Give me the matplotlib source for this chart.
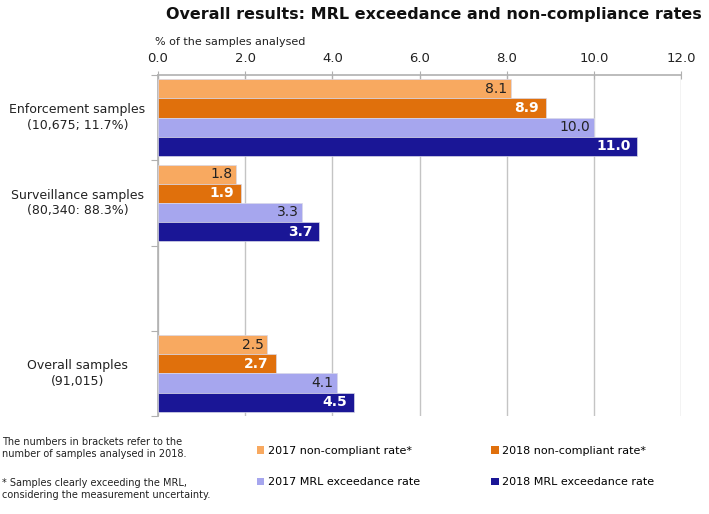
import numpy as np
import matplotlib
matplotlib.use('Agg')
import matplotlib.pyplot as plt
from matplotlib.patches import Patch

# categories (third slot is an empty spacer in the original)
CATEGORIES = ['Enforcement samples\n(10,675; 11.7%)',
              'Surveillance samples\n(80,340: 88.3%)',
              '',
              'Overall samples\n(91,015)']
SERIES = ['2017 non-compliant rate*', '2018 non-compliant rate*',
          '2017 MRL exceedance rate', '2018 MRL exceedance rate']
NC_2017 = [8.1, 1.8, None, 2.5]
NC_2018 = [8.9, 1.9, None, 2.7]
MRL_2017 = [10.0, 3.3, None, 4.1]
MRL_2018 = [11.0, 3.7, None, 4.5]
X_TICKS = [0, 2, 4, 6, 8, 10, 12]

COLORS = ['#F8A960', '#E0700C', '#A6A6EE', '#1A1696']
LABEL_COLORS = ['#222222', 'white', '#222222', 'white']
LABEL_WEIGHTS = ['normal', 'bold', 'normal', 'bold']
LABEL_PAD = [-2.5, -5, -2.5, -5]

plt.rcParams['font.family'] = ['DejaVu Sans']

fig = plt.figure(figsize=(7.09, 5.14), dpi=100)
ax = fig.add_axes([158 / 709, 1 - 416 / 514, (681 - 158) / 709, (416 - 75) / 514])

y = np.arange(len(CATEGORIES))
h = 0.225
offsets = [-1.5 * h, -0.5 * h, 0.5 * h, 1.5 * h]
all_series = [NC_2017, NC_2018, MRL_2017, MRL_2018]

for vals, off, col, lc, lw, pad in zip(all_series, offsets, COLORS, LABEL_COLORS,
                                       LABEL_WEIGHTS, LABEL_PAD):
    idx = [i for i, v in enumerate(vals) if v is not None]
    v = [vals[i] for i in idx]
    ax.barh(y[idx] + off, v, height=h, color=col,
            edgecolor='#d8d8e8', linewidth=0.5, zorder=3)
    for yy, xx in zip(y[idx] + off, v):
        ax.annotate(f'{xx:.1f}', xy=(xx, yy), xytext=(pad, 0), textcoords='offset points',
                    ha='right', va='center', color=lc, fontsize=10,
                    fontweight=lw, zorder=4)

ax.set_xlim(0, 12)
ax.set_ylim(3.5, -0.5)
ax.set_xticks(X_TICKS)
ax.set_xticklabels([f'{t:.1f}' for t in X_TICKS], fontsize=9.5, color='#222222')
ax.xaxis.tick_top()
ax.tick_params(axis='x', direction='inout', length=6, color='#b0b0b0', pad=4)
ax.set_yticks([-0.5, 0.5, 1.5, 2.5, 3.5])
ax.set_yticklabels([])
ax.tick_params(axis='y', direction='out', length=5, color='#b0b0b0')
ax.grid(axis='x', color='#c4c4c4', linewidth=1, zorder=0)

for s in ['right', 'bottom']:
    ax.spines[s].set_visible(False)
for s in ['top', 'left']:
    ax.spines[s].set_color('#b0b0b0')
    ax.spines[s].set_linewidth(1.2)

for yi, cat in zip(y, CATEGORIES):
    if cat:
        ax.annotate(cat, xy=(0, yi), xycoords=('axes fraction', 'data'),
                    xytext=(-58, 0), textcoords='offset points',
                    ha='center', va='center', fontsize=9, color='#222222',
                    multialignment='center', linespacing=1.25)

fig.text(0.99, 1 - 14 / 514, 'Overall results: MRL exceedance and non-compliance rates',
         ha='right', va='center', fontsize=11.5, fontweight='bold', color='#111111')
fig.text(155 / 709, 1 - 42 / 514, '% of the samples analysed',
         ha='left', va='center', fontsize=8, color='#222222')

handles = [Patch(facecolor=COLORS[i]) for i in [0, 2, 1, 3]]
labels = [SERIES[i] for i in [0, 2, 1, 3]]
fig.legend(handles, labels, loc='upper left', bbox_to_anchor=(257 / 709, 1 - 446 / 514),
           ncol=2, frameon=False, fontsize=8, handlelength=0.65, handleheight=0.65,
           handletextpad=0.35, columnspacing=6.4, labelspacing=1.9, borderaxespad=0,
           borderpad=0)

fig.text(0.003, 1 - 437 / 514, 'The numbers in brackets refer to the\nnumber of samples analysed in 2018.',
         ha='left', va='top', fontsize=7, color='#222222', linespacing=1.25)
fig.text(0.003, 1 - 478 / 514, '* Samples clearly exceeding the MRL,\nconsidering the measurement uncertainty.',
         ha='left', va='top', fontsize=7, color='#222222', linespacing=1.25)

fig.savefig('out.png', dpi=100)
